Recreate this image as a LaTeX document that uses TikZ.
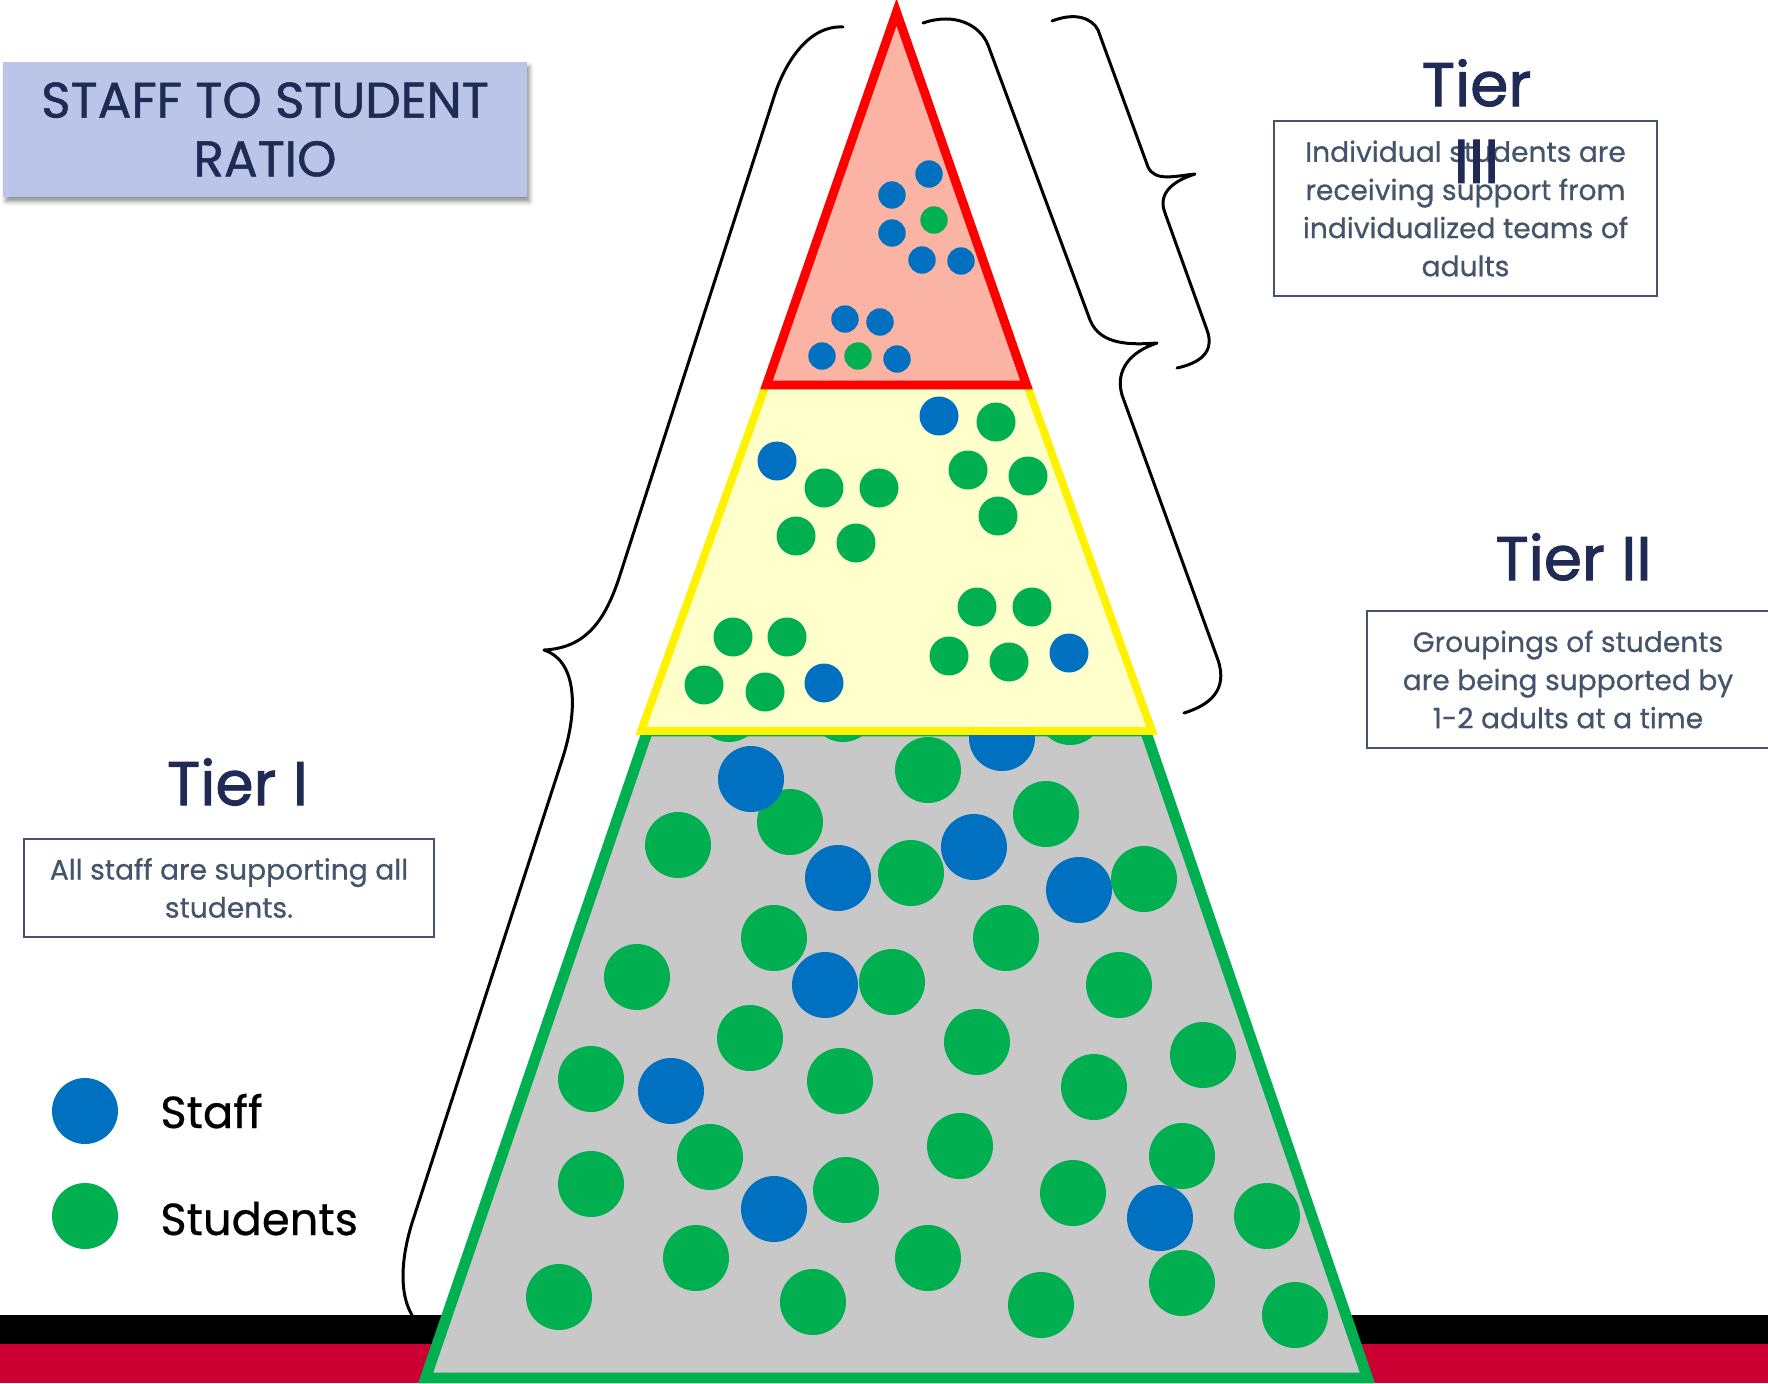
\documentclass[tikz,border=0pt]{standalone}
\usepackage{fontspec}
\setmainfont{Poppins}
\newfontfamily\headfont{Poppins}[BoldFont=Poppins, BoldFeatures={FakeBold=1.6}]
\newfontfamily\titlefont{Poppins}[BoldFont=Poppins, BoldFeatures={FakeBold=1.0}]
\newfontfamily\bodyfont{Poppins}[BoldFont=Poppins, BoldFeatures={FakeBold=0.6}]
\usetikzlibrary{shadows.blur}

\definecolor{navy}{RGB}{31,42,85}
\definecolor{slate}{RGB}{68,84,106}
\definecolor{titlefill}{RGB}{186,197,232}
\definecolor{dotgreen}{RGB}{0,176,80}
\definecolor{dotblue}{RGB}{0,112,192}
\definecolor{tiergray}{RGB}{200,200,200}
\definecolor{paleyellow}{RGB}{255,255,204}
\definecolor{salmon}{RGB}{251,179,163}
\definecolor{barred}{RGB}{204,0,51}

\tikzset{
  heading/.style={text=navy, font=\headfont\bfseries\fontsize{35}{44}\selectfont, anchor=base},
  descbox/.style={draw=slate, line width=1.1pt, text=slate, align=center,
                  inner sep=0pt, font=\bodyfont\bfseries\fontsize{16}{21.7}\selectfont},
  brace/.style={draw=black, line width=1.7pt, line join=round, line cap=round},
  legendlabel/.style={text=black, inner sep=0pt,
                      font=\bodyfont\bfseries\fontsize{25.5}{30}\selectfont, anchor=base west},
}

\begin{document}
\begin{tikzpicture}[x=0.02cm, y=-0.02cm]
\useasboundingbox (0,0) rectangle (1768,1383);

% ground bands
\fill[black] (0,1315) rectangle (1768,1344);
\fill[barred] (0,1344) rectangle (1768,1383);

% Tier I band
\filldraw[fill=tiergray, draw=dotgreen, line width=6.2pt]
  (647.5,731) -- (1145.5,731) -- (1367.4,1378) -- (425.6,1378) -- cycle;
\foreach \x/\y in {729/709, 843/709, 1070/712,
    928/770, 790/822, 678/845, 1046/814, 911/873, 1144/879, 774/938, 1006/938,
    637/977, 892/982, 1119/985, 750/1038, 977/1042, 1203/1055, 591/1079,
    840/1081, 1094/1087, 960/1146, 710/1157, 1182/1156, 591/1184, 846/1190,
    1073/1193, 1267/1216, 696/1258, 928/1258, 1182/1283, 559/1297, 813/1302,
    1041/1305, 1295/1315}
  \fill[dotgreen] (\x,\y) circle[radius=0.66cm];
\foreach \x/\y in {1002/738, 751/779, 838/878, 974/847, 1079/890, 825/985,
    671/1091, 774/1209, 1160/1218}
  \fill[dotblue] (\x,\y) circle[radius=0.66cm];

% Tier II band (its outline peeks out beside the Tier III triangle)
\filldraw[fill=paleyellow, draw=yellow, line width=4.5pt]
  (896.5,23) -- (1152,731) -- (641,731) -- cycle;
\foreach \x/\y in {996/422, 824/488, 879/488, 968/470, 1028/476, 998/516,
    796/536, 856/543, 977/607, 1032/607, 733/637, 787/637, 949/656, 1009/662,
    704/685, 765/692}
  \fill[dotgreen] (\x,\y) circle[radius=0.39cm];
\foreach \x/\y in {939/416, 777/461, 1069/653, 824/683}
  \fill[dotblue] (\x,\y) circle[radius=0.39cm];

% Tier III band
\filldraw[fill=salmon, draw=red, line width=5.1pt]
  (896.5,12) -- (1026.5,385) -- (766.5,385) -- cycle;
\foreach \x/\y in {934/220, 858/356}
  \fill[dotgreen] (\x,\y) circle[radius=0.274cm];
\foreach \x/\y in {929/174, 892/195, 892/233, 922/260, 961/261, 845/319,
    880/322, 822/356, 897/359}
  \fill[dotblue] (\x,\y) circle[radius=0.274cm];

% braces
\draw[brace] (843,27) .. controls (810,25) and (785,60) .. (773,100)
  -- (620,575) .. controls (605,622) and (585,648) .. (544,650)
  .. controls (575,660) and (580,705) .. (562,760)
  -- (412,1223) .. controls (400,1262) and (400,1295) .. (412,1315);
\draw[brace] (923,23) .. controls (955,12) and (980,25) .. (988,45)
  -- (1090,320) .. controls (1100,345) and (1130,345) .. (1157,343)
  .. controls (1130,352) and (1115,370) .. (1122,395)
  -- (1218,660) .. controls (1228,690) and (1210,705) .. (1184,713);
\draw[brace] (1052,21) .. controls (1075,12) and (1092,18) .. (1098,30)
  -- (1148,167) .. controls (1155,182) and (1175,176) .. (1195,174)
  .. controls (1170,182) and (1158,195) .. (1165,213)
  -- (1207,330) .. controls (1215,352) and (1200,363) .. (1177,368);

% title
\node (title) [fill=titlefill, text=navy, align=center, inner sep=0pt,
  minimum width=10.48cm, minimum height=2.7cm,
  font=\titlefont\bfseries\fontsize{28.5}{33.4}\selectfont,
  blur shadow={shadow xshift=1.5pt, shadow yshift=-2.5pt, shadow blur radius=2.5pt, shadow opacity=45}]
  at (265,129.5) {STAFF TO STUDENT\\RATIO};

% tier descriptions
\node (boxthree) [descbox, minimum width=7.66cm, minimum height=3.5cm] at (1465.5,208.5)
  {Individual students are\\receiving support from\\individualized teams of\\adults};
\node (boxtwo) [descbox, minimum width=8.04cm, minimum height=2.74cm] at (1568,679.5)
  {Groupings of students\\are being supported by\\1-2 adults at a time};
\node (boxone) [descbox, minimum width=8.2cm, minimum height=1.96cm] at (229,888)
  {All staff are supporting all\\students.};

% tier headings
\node (tierthree) [heading, anchor=center, align=center,
  font=\headfont\bfseries\fontsize{35}{43.7}\selectfont] at (1476.5,121) {Tier\\III};
\node (tiertwo) [heading] at (1573.5,580) {Tier II};
\node (tierone) [heading] at (237.5,805) {Tier I};

% legend
\fill[dotblue] (85,1111) circle[radius=0.66cm];
\fill[dotgreen] (85,1216) circle[radius=0.66cm];
\node (staff) [legendlabel] at (160,1128) {Staff};
\node (students) [legendlabel] at (160,1235) {Students};
\end{tikzpicture}
\end{document}
